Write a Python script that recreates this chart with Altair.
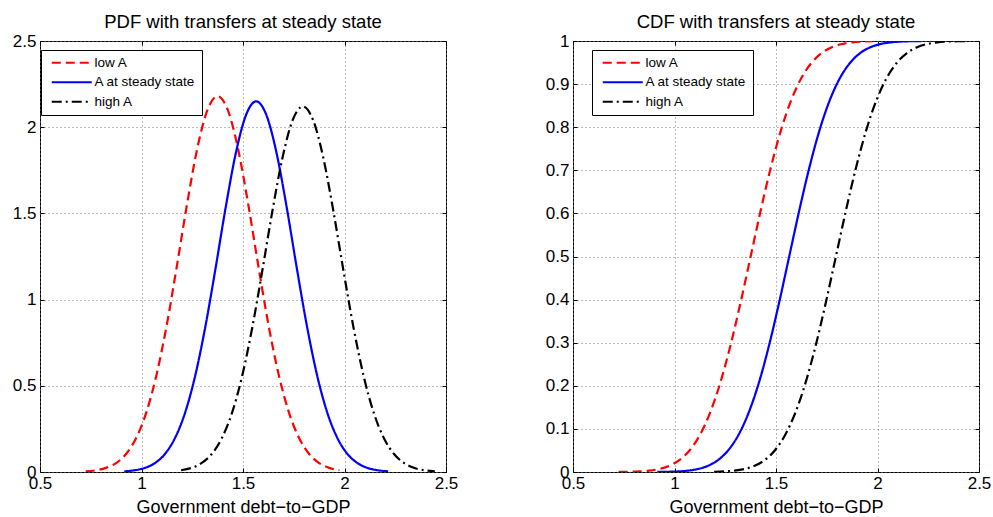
import altair as alt
import pandas as pd

series = ["low A", "A at steady state", "high A"]
colors = ["#ff0000", "#0000ff", "#000000"]
dashes = [[9, 5], [1, 0], [10, 4, 2, 4]]

x_low = [0.725, 0.775, 0.825, 0.875, 0.925, 0.975, 1.025, 1.075, 1.125, 1.175, 1.225, 1.275, 1.325,
         1.375, 1.425, 1.475, 1.525, 1.575, 1.625, 1.675, 1.725, 1.775, 1.825, 1.875, 1.925, 1.975]
pdf_low = [0.004, 0.010, 0.024, 0.052, 0.106, 0.200, 0.350, 0.569, 0.857, 1.200, 1.558, 1.878, 2.100,
           2.180, 2.100, 1.878, 1.558, 1.200, 0.857, 0.569, 0.350, 0.200, 0.106, 0.052, 0.024, 0.010]
cdf_low = [0.0002, 0.0005, 0.0013, 0.0031, 0.0070, 0.0144, 0.0279, 0.0506, 0.0859, 0.1372, 0.2061, 0.2924, 0.3923,
           0.5, 0.6077, 0.7076, 0.7939, 0.8628, 0.9141, 0.9494, 0.9721, 0.9856, 0.9930, 0.9969, 0.9987, 0.9995]

x_mid = [0.915, 0.965, 1.015, 1.065, 1.115, 1.165, 1.215, 1.265, 1.315, 1.365, 1.415, 1.465, 1.515,
         1.565, 1.615, 1.665, 1.715, 1.765, 1.815, 1.865, 1.915, 1.965, 2.015, 2.065, 2.115, 2.165, 2.215]
pdf_mid = [0.004, 0.010, 0.023, 0.051, 0.104, 0.197, 0.345, 0.561, 0.846, 1.183, 1.537, 1.852, 2.071,
           2.150, 2.071, 1.852, 1.537, 1.183, 0.846, 0.561, 0.345, 0.197, 0.104, 0.051, 0.023, 0.010, 0.004]
cdf_mid = [0.0002, 0.0005, 0.0013, 0.0031, 0.0070, 0.0144, 0.0279, 0.0506, 0.0859, 0.1372, 0.2061, 0.2924, 0.3923,
           0.5, 0.6077, 0.7076, 0.7939, 0.8628, 0.9141, 0.9494, 0.9721, 0.9856, 0.9930, 0.9969, 0.9987, 0.9995, 0.9998]

x_high = [1.195, 1.245, 1.295, 1.345, 1.395, 1.445, 1.495, 1.545, 1.595, 1.645, 1.695, 1.745,
          1.795, 1.845, 1.895, 1.945, 1.995, 2.045, 2.095, 2.145, 2.195, 2.245, 2.295, 2.345, 2.395, 2.445]
pdf_high = [0.010, 0.023, 0.051, 0.103, 0.194, 0.340, 0.553, 0.834, 1.167, 1.515, 1.826, 2.042,
            2.120, 2.042, 1.826, 1.515, 1.167, 0.834, 0.553, 0.340, 0.194, 0.103, 0.051, 0.023, 0.010, 0.004]
cdf_high = [0.0005, 0.0013, 0.0031, 0.0070, 0.0144, 0.0279, 0.0506, 0.0859, 0.1372, 0.2061, 0.2924, 0.3923,
            0.5, 0.6077, 0.7076, 0.7939, 0.8628, 0.9141, 0.9494, 0.9721, 0.9856, 0.9930, 0.9969, 0.9987, 0.9995, 0.9998]

x_ticks = [0.5, 1.0, 1.5, 2.0, 2.5]
pdf_ticks = [0, 0.5, 1.0, 1.5, 2.0, 2.5]
cdf_ticks = [0, 0.1, 0.2, 0.3, 0.4, 0.5, 0.6, 0.7, 0.8, 0.9, 1.0]

rows = []
for name, xs, pdf, cdf in zip(series, [x_low, x_mid, x_high], [pdf_low, pdf_mid, pdf_high],
                              [cdf_low, cdf_mid, cdf_high]):
    for xv, p, c in zip(xs, pdf, cdf):
        rows.append({"series": name, "x": xv, "pdf": p, "cdf": c})
df = pd.DataFrame(rows)


def panel(ycol, title, ydom, yvals, lx, ly):
    base = alt.Chart(df)
    xscale = alt.Scale(domain=[0.5, 2.5], nice=False, zero=False)
    yscale = alt.Scale(domain=ydom, nice=False, zero=False)
    leg = alt.Legend(orient="none", legendX=lx, legendY=ly, title=None, symbolType="M-0.4,0H7.6",
                     symbolSize=100, symbolStrokeWidth=2, fillColor="white", strokeColor="black",
                     padding=6, labelFontSize=13.5, labelColor="black", rowPadding=4.5, labelOffset=34)
    lines = base.mark_line(strokeWidth=2.2, interpolate="monotone", clip=True).encode(
        x=alt.X("x:Q", scale=xscale,
                axis=alt.Axis(values=x_ticks, format="~g", title="Government debt−to−GDP", orient="bottom",
                              grid=True, tickSize=4, offset=-4, domain=False, labelPadding=3,
                              labelFlush=False, labelOverlap=False)),
        y=alt.Y(f"{ycol}:Q", scale=yscale,
                axis=alt.Axis(values=yvals, format="~g", title=None, orient="left", grid=True,
                              tickSize=4, offset=-4, domain=False, labelPadding=4,
                              labelFlush=False, labelOverlap=False)),
        color=alt.Color("series:N", scale=alt.Scale(domain=series, range=colors), legend=leg),
        strokeDash=alt.StrokeDash("series:N", scale=alt.Scale(domain=series, range=dashes), legend=leg),
    )
    ticks = base.mark_line(opacity=0).encode(
        x=alt.X("x:Q", scale=xscale,
                axis=alt.Axis(values=x_ticks, orient="top", labels=False, grid=False, tickSize=4,
                              offset=-4, domain=False, title=None)),
        y=alt.Y(f"{ycol}:Q", scale=yscale,
                axis=alt.Axis(values=yvals, orient="right", labels=False, grid=False, tickSize=4,
                              offset=-4, domain=False, title=None)),
    )
    return alt.layer(lines, ticks).resolve_axis(x="independent", y="independent").properties(
        width=406, height=431, title=alt.TitleParams(title, offset=1))


left = panel("pdf", "PDF with transfers at steady state", [0, 2.5], pdf_ticks, 1, 9)
right = panel("cdf", "CDF with transfers at steady state", [0, 1], cdf_ticks, 19, 9)

chart = alt.hconcat(left, right, spacing=85).resolve_legend(
    color="independent", strokeDash="independent"
).properties(
    padding={"left": 11, "top": 12, "right": 0, "bottom": 0}
).configure(
    font="Liberation Sans"
).configure_view(
    stroke="black", strokeWidth=1
).configure_axis(
    labelFontSize=17, labelColor="black", titleFontSize=18, titleFontWeight="normal", titleColor="black",
    gridColor="#777777", gridDash=[1, 3], gridWidth=1, tickColor="black", tickWidth=1,
    labelFont="Liberation Sans", titleFont="Liberation Sans", titlePadding=7
).configure_title(
    fontSize=18.5, fontWeight="normal", color="black", font="Liberation Sans"
)

chart.save("out.html", embed_options={"renderer": "svg", "actions": False})
